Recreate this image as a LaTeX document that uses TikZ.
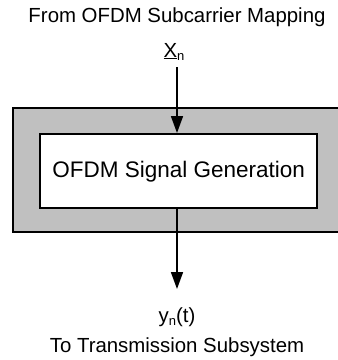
\documentclass[tikz,border=0pt]{standalone}
\usepackage{fontspec}
\setmainfont{Liberation Sans}
\usetikzlibrary{arrows.meta}
\definecolor{boxgray}{HTML}{C0C0C0}
\tikzset{
  lbl/.style={inner sep=0pt, font=\fontsize{20.4}{24}\selectfont},
  outerbox/.style={draw, line width=2.4pt, fill=boxgray},
  innerbox/.style={draw, line width=2.4pt, fill=white},
  flow/.style={line width=1.7pt, -{Triangle[length=17pt,width=12pt]}}
}
\begin{document}
\begin{tikzpicture}[x=1pt,y=-1pt]
\useasboundingbox (0,0) rectangle (338,360);
\draw[outerbox] (13,108) rectangle (345,232);
\node[innerbox, minimum width=277pt, minimum height=74pt, anchor=north west] (gen) at (39,133) {};
\node[lbl, font=\fontsize{22.5}{26}\selectfont] at (gen.center) {OFDM Signal Generation};
\node[lbl] (from) at (177,17) {From OFDM Subcarrier Mapping};
\node[lbl, anchor=base] (xn) at (174,57) {\underline{X}\raisebox{-3pt}{\fontsize{13}{15}\selectfont n}};
\coordinate (xtop) at (177,67);
\node[lbl, anchor=base] (yn) at (177,322) {y\raisebox{-3pt}{\fontsize{13}{15}\selectfont n}(t)};
\node[lbl] (to) at (177,347) {To Transmission Subsystem};
\coordinate (ytip) at (177,289);
\draw[flow] (xtop) -- (gen.north -| xtop);
\draw[flow] (gen.south -| xtop) -- (ytip);
\end{tikzpicture}
\end{document}
